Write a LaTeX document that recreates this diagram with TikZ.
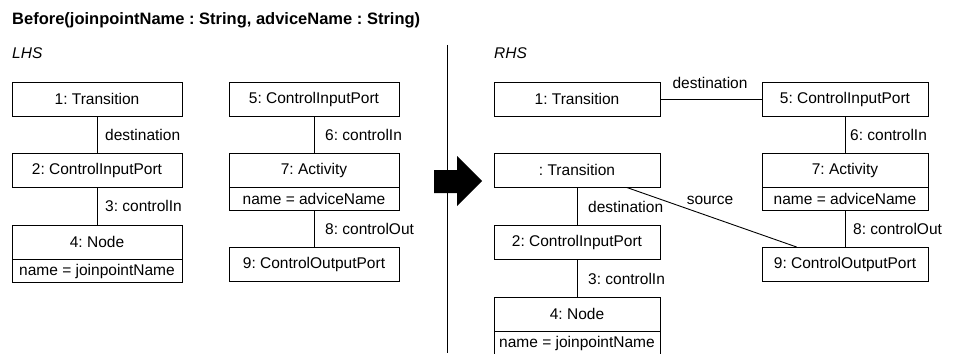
\documentclass[tikz,border=0pt]{standalone}
\usepackage{fontspec}
\setmainfont{Liberation Sans}
\usetikzlibrary{calc}
\frenchspacing
\newcommand\bodyfont{\fontsize{15.5}{18}\selectfont}
\newcommand\titlefont{\fontsize{16.5}{20}\selectfont\bfseries}
\tikzset{
  obj/.style={draw, line width=0.9pt, minimum height=34pt, inner sep=0pt, font=\bodyfont},
  objL/.style={obj, minimum width=170pt},
  objR/.style={obj, minimum width=166pt},
  attr/.style={draw, line width=0.9pt, minimum height=22.4pt, inner sep=0pt, anchor=north, font=\bodyfont},
  lbl/.style={inner sep=0pt, anchor=west, font=\bodyfont},
  link/.style={line width=0.9pt},
}
\begin{document}
\begin{tikzpicture}[x=1pt, y=-1pt]
\useasboundingbox (0,0) rectangle (957,353);

% heading and panel captions
\node[inner sep=0pt, anchor=west, font=\titlefont] (title) at (12,20) {Before(joinpointName : String, adviceName : String)};
\node[lbl, font=\bodyfont\itshape] (lhs) at (12,53) {LHS};
\node[lbl, font=\bodyfont\itshape] (rhs) at (494,53) {RHS};

% separator and transformation arrow
\coordinate (sepTop) at (447,45);
\coordinate (sepBot) at (447,353);
\draw[link] (sepTop) -- (sepBot);
\fill (434,170) -- (457,170) -- (457,156) -- (482,181) -- (457,206) -- (457,193) -- (434,193) -- cycle;

% ---------- left-hand side ----------
\node[objL] (L1) at (97,99) {1: Transition};
\node[objL] (L2) at (97,170) {2: ControlInputPort};
\node[objL] (L4) at (97,242) {4: Node};
\node[attr, minimum width=170pt] (L4a) at (L4.south) {name = joinpointName};
\node[objL] (L5) at (314,99) {5: ControlInputPort};
\node[objL] (L7) at (314,170) {7: Activity};
\node[attr, minimum width=170pt] (L7a) at (L7.south) {name = adviceName};
\node[objL] (L9) at (314,264.7) {9: ControlOutputPort};

\draw[link] (L1) -- (L2);
\draw[link] (L2) -- (L4);
\draw[link] (L5) -- (L7);
\draw[link] (L7a) -- (L9);

\node[lbl] (l12) at (105,134.5) {destination};
\node[lbl] (l24) at (105,206) {3: controlIn};
\node[lbl] (l57) at (325,134.5) {6: controlIn};
\node[lbl] (l79) at (325,229) {8: controlOut};

% ---------- right-hand side ----------
\node[objR] (R1) at (577,99) {1: Transition};
\node[objR] (R5) at (845,99) {5: ControlInputPort};
\node[objR] (RT) at (577,170) {: Transition};
\node[objR] (R7) at (845,170) {7: Activity};
\node[attr, minimum width=166pt] (R7a) at (R7.south) {name = adviceName};
\node[objR] (R2) at (577,242.3) {2: ControlInputPort};
\node[objR] (R4) at (577,314) {4: Node};
\node[attr, minimum width=166pt] (R4a) at (R4.south) {name = joinpointName};
\node[objR] (R9) at (845,264.5) {9: ControlOutputPort};

\draw[link] (R1) -- (R5);
\draw[link] (R5) -- (R7);
\draw[link] (R7a) -- (R9);
\draw[link] (RT) -- (R2);
\draw[link] (R2) -- (R4);
\draw[link] ([xshift=49.7pt]RT.south) -- ([xshift=-48.3pt]R9.north);

\node[inner sep=0pt, font=\bodyfont] (r15) at (710,83) {destination};
\node[lbl] (r57) at (850,135) {6: controlIn};
\node[lbl] (r79) at (853,229) {8: controlOut};
\node[lbl] (rt2) at (588,206.7) {destination};
\node[lbl] (r24) at (588,279) {3: controlIn};
\node[inner sep=0pt, font=\bodyfont] (rsrc) at (710,200) {source};
\end{tikzpicture}
\end{document}
